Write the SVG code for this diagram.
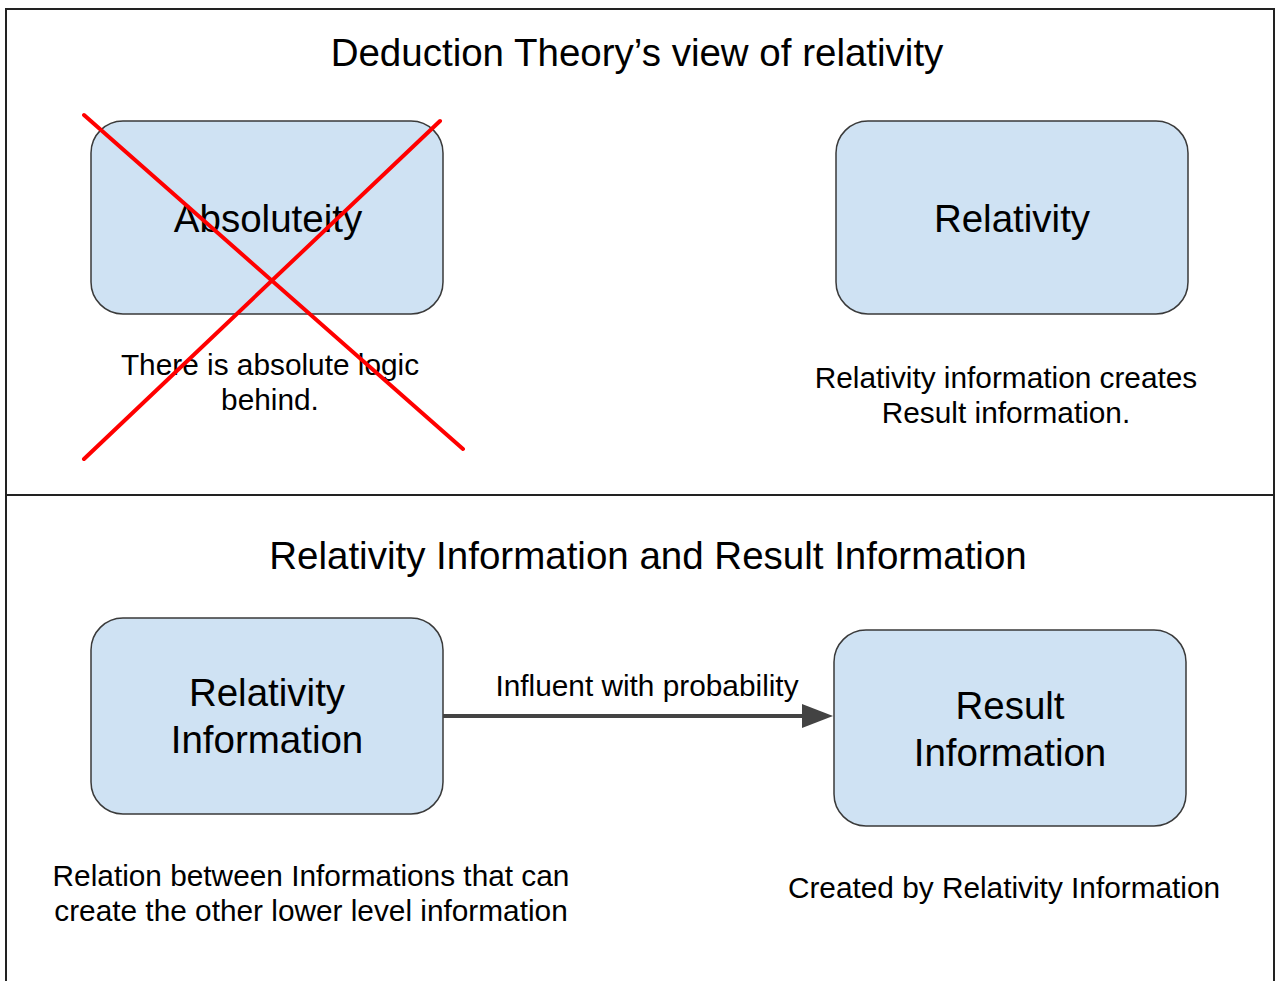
<svg xmlns="http://www.w3.org/2000/svg" width="1275" height="981" viewBox="0 0 1275 981">
  <style>
    .frame { fill: none; stroke: #222; stroke-width: 2; }
    .node rect { fill: #cfe2f3; stroke: #3a3a3a; stroke-width: 1.5; }
    .label { font-family: "Liberation Sans", Arial, sans-serif; fill: #000; text-anchor: middle; }
    .big { font-size: 38.5px; }
    .small { font-size: 29.8px; }
    .edge { stroke: #434343; stroke-width: 4; fill: none; }
    .cross { stroke: #ff0000; stroke-width: 4; stroke-linecap: round; }
  </style>
  <rect width="1275" height="981" fill="#ffffff"/>

  <!-- outer frame and divider -->
  <path class="frame" d="M6,990 L6,9 L1274,9 L1274,990"/>
  <line class="frame" x1="6" y1="495" x2="1274" y2="495"/>

  <!-- section titles -->
  <text class="label big" x="637" y="66">Deduction Theory’s view of relativity</text>
  <text class="label big" x="648" y="569">Relativity Information and Result Information</text>

  <!-- upper section -->
  <g id="absoluteity" class="node">
    <rect x="91" y="121" width="352" height="193" rx="32"/>
    <text class="label big" x="268" y="232">Absoluteity</text>
  </g>
  <g id="absoluteity-note">
    <text class="label small" x="270" y="375">There is absolute logic</text>
    <text class="label small" x="270" y="410">behind.</text>
  </g>
  <g id="strike">
    <line class="cross" x1="84" y1="115" x2="463" y2="449"/>
    <line class="cross" x1="440" y1="121" x2="84" y2="459"/>
  </g>

  <g id="relativity" class="node">
    <rect x="836" y="121" width="352" height="193" rx="32"/>
    <text class="label big" x="1012" y="232">Relativity</text>
  </g>
  <g id="relativity-note">
    <text class="label small" x="1006" y="388">Relativity information creates</text>
    <text class="label small" x="1006" y="423">Result information.</text>
  </g>

  <!-- lower section -->
  <g id="relativity-information" class="node">
    <rect x="91" y="618" width="352" height="196" rx="32"/>
    <text class="label big" x="267" y="706">Relativity</text>
    <text class="label big" x="267" y="753">Information</text>
  </g>
  <g id="relativity-information-note">
    <text class="label small" x="311" y="886">Relation between Informations that can</text>
    <text class="label small" x="311" y="921">create the other lower level information</text>
  </g>

  <g id="result-information" class="node">
    <rect x="834" y="630" width="352" height="196" rx="32"/>
    <text class="label big" x="1010" y="719">Result</text>
    <text class="label big" x="1010" y="766">Information</text>
  </g>
  <g id="result-information-note">
    <text class="label small" x="1004" y="898">Created by Relativity Information</text>
  </g>

  <g id="connectors">
    <line class="edge" x1="443" y1="716" x2="804" y2="716"/>
    <path d="M802,704 L833,716 L802,728 z" fill="#434343"/>
    <text class="label small" x="647" y="696">Influent with probability</text>
  </g>
</svg>
